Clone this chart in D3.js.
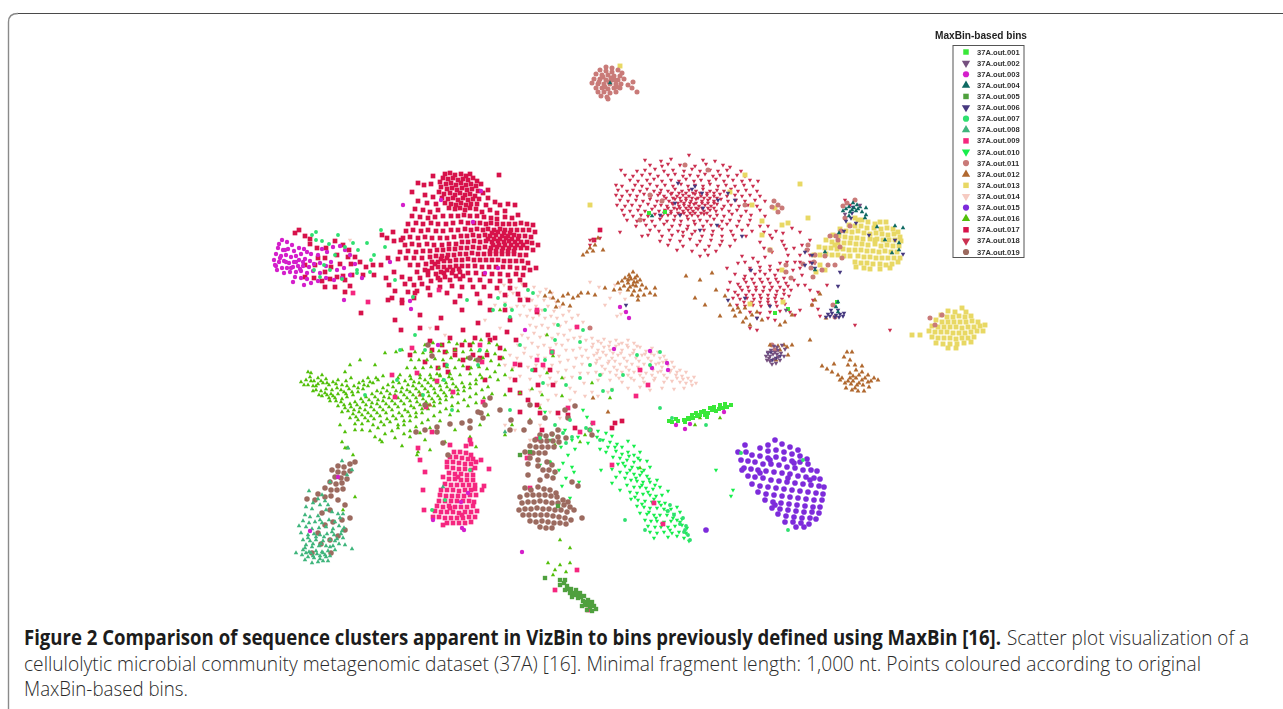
<!DOCTYPE html>
<html>
<head>
<meta charset="utf-8">
<script src="https://cdn.jsdelivr.net/npm/d3@7"></script>
<style>
body { margin: 0; background: #fff; }
svg { display: block; }
.legendTitle { font: bold 10.1px "Liberation Sans"; fill: #222; text-anchor: middle; }
.legendText { font: bold 7.6px "Liberation Sans"; fill: #333; }
.capBold { font: bold 20.5px "Open Sans"; fill: #1c1c1c; }
.capText { font: 300 20.5px "Open Sans"; fill: #2a2a2a; }
</style>
</head>
<body>
<svg width="1283" height="709"></svg>
<script>
// scatter values, x,y,x,y,... in map units
var bin001 = [731,405,727,407,723,408,719,409,716,411,712,410,708,413,705,415,701,412,697,416,693,418,689,419,696,413,710,408,720,405,704,411,684,420,678,421,672,422,669,421,676,419,685,422,707,417,837,302,788,309,665,212,649,213,688,418,775,313,714,407,725,404,700,415,692,415];
var bin002 = [774,346,771,350,768,352,766,356,770,356,775,352,778,350,781,353,778,357,774,359,770,361,776,363,780,360,784,356,772,364,767,360,777,347,785,349,782,345,860,205,845,214,786,310,773,354,777,354,769,358];
var bin003 = [282,240,287,242,292,245,278,248,283,250,288,249,294,251,299,248,304,249,276,254,281,256,286,255,291,257,296,256,301,254,307,252,311,254,274,260,279,262,284,261,289,263,294,262,299,260,305,259,310,261,276,266,282,268,287,268,293,267,298,266,303,266,309,267,314,264,277,270,275,265,284,273,290,272,296,272,301,271,307,273,313,271,295,277,301,278,307,279,318,255,322,249,327,252,333,247,340,246,345,250,320,263,326,266,331,262,337,270,344,268,320,273,326,278,334,280,342,278,318,281,293,282,304,285,311,283,350,255,350,275,362,278,355,264,344,300,410,301,403,205,473,222,481,191,438,345,390,262,411,309,485,273,441,200,498,268,525,330,650,351,667,363,668,370,614,349,626,312,629,318,620,307,676,425,685,429,690,424,461,502,468,493,462,528,464,530,433,520,522,552,310,531,338,477,652,368,724,412,280,258,285,250,296,262,291,268,303,262,279,244,286,262,300,269];
var bin004 = [853,203,857,205,849,207,854,208,860,207,846,209,850,212,856,211,862,212,866,208,843,211,849,216,866,215,895,226,903,228,892,253,899,250,815,270,865,218,877,227,899,243,838,302,836,307,838,312,885,240,839,233,652,216,610,83,825,252,858,209,852,210];
var bin005 = [560,580,564,583,567,586,560,585,571,589,576,590,565,590,570,593,575,595,580,593,584,596,578,598,583,601,588,600,592,602,586,605,590,607,594,606,596,609,587,610,592,611,572,597,582,606,565,580,591,604,545,578,558,506,520,455,530,452,568,589,574,593,581,597,585,602,589,604,577,594];
var bin006 = [828,314,832,313,836,315,840,314,844,313,835,317,830,316,826,317,839,317,843,316,831,310,838,310,771,352,776,358,772,360,768,353,780,356,853,207,852,213,846,221,851,218,844,231,869,235,856,223,660,215,675,203,678,183,692,189,702,193,718,200,717,225,700,230,680,215,735,200,742,236,745,298,770,306,728,300,751,270,757,318,840,272,838,286,805,252,805,265,812,255,895,240,903,254,812,263,815,268,626,305,695,186,703,208,728,193];
var bin007 = [312,235,316,232,322,241,329,244,338,235,345,247,353,243,358,250,367,243,381,230,385,247,314,270,320,277,324,265,330,270,335,255,342,279,357,270,371,260,374,255,370,272,357,273,316,240,395,280,413,297,467,300,415,335,425,350,447,365,478,365,533,293,520,345,510,317,505,305,493,310,498,298,512,310,528,290,552,352,555,340,532,370,543,383,566,385,558,325,545,310,600,375,603,391,612,390,623,375,580,342,583,330,590,365,580,378,590,430,570,420,555,425,540,438,566,443,572,437,586,428,563,433,650,365,637,355,660,352,510,410,470,470,432,510,445,500,452,410,444,380,423,395,397,380,400,350,365,395,545,360,480,350,600,440,625,520,645,530,685,530,670,505,690,540,684,532,680,524,683,518,688,535,674,515,668,511,686,526,660,408,672,418,706,425,741,453,788,530,803,460];
var bin008 = [322,495,318,499,325,501,313,503,320,505,328,505,306,507,312,509,326,510,332,512,305,515,310,517,318,516,338,514,303,521,309,523,315,522,322,523,329,520,335,522,340,518,306,527,312,529,319,528,326,527,333,529,339,526,344,528,301,533,308,535,314,534,320,535,327,534,334,535,341,534,303,540,310,541,316,540,323,541,330,540,337,539,343,538,306,545,312,547,319,546,326,546,333,546,339,544,303,550,309,552,316,551,322,552,328,551,335,550,302,555,308,557,314,558,320,556,326,557,318,562,323,561,312,563,328,561,305,560,348,448,342,461,299,526,343,514,345,545,330,556,352,549,296,553,320,520,309,491,347,475,352,470,330,482,443,487,505,432,311,553,317,554,323,553,330,547,305,548,313,544,321,544,335,541,308,538,316,537,324,537,332,532,342,531,313,556,320,559,325,555,306,553];
var bin009 = [454,452,460,452,466,453,471,455,450,457,456,457,462,458,468,459,473,459,476,462,447,462,453,462,459,463,465,464,471,464,447,467,453,468,459,469,465,469,471,470,475,468,449,473,455,474,461,474,467,475,473,475,443,477,449,479,455,479,461,480,467,480,473,480,445,484,451,485,457,485,463,485,469,485,475,485,441,490,447,490,453,490,459,491,465,490,471,490,440,495,446,496,452,496,458,496,464,496,470,495,476,495,439,501,445,501,451,501,457,501,463,501,469,501,474,502,437,506,443,507,449,506,455,507,461,507,467,507,473,506,435,511,441,512,447,512,453,512,459,513,465,512,471,512,477,511,433,517,439,517,445,518,451,518,457,518,463,518,469,517,475,517,447,523,453,523,459,523,465,523,471,522,450,508,462,515,458,477,443,525,424,510,423,490,425,472,470,440,466,446,481,460,471,444,475,489,482,490,420,460,418,448,489,469,484,486,537,439,530,453,480,345,453,392,437,381,417,373,450,445,368,302,439,290,527,458,432,432,426,407,483,402,515,364,537,360,552,352,543,365,568,408,580,432,593,423,636,396,648,385,612,465,654,503,663,524,640,370,577,327,537,310,482,362,392,375,395,397,412,348,353,293,530,488,588,610,590,603,555,590,577,570];
var bin010 = [587,417,592,424,598,431,606,433,612,436,603,440,597,437,610,442,617,444,622,447,628,441,634,446,600,449,606,452,616,451,628,452,634,455,640,452,613,457,620,458,627,460,634,462,640,460,647,461,618,464,625,466,632,467,638,468,644,470,650,467,612,469,620,472,627,473,634,474,640,475,647,476,625,478,631,480,637,481,643,482,650,482,657,480,616,477,627,485,634,487,640,487,646,488,653,489,660,487,630,492,637,493,643,494,650,495,656,496,662,495,668,491,620,490,631,499,638,500,645,501,652,502,659,502,665,503,637,506,644,507,650,508,657,508,664,509,671,509,677,507,640,513,647,514,654,515,660,515,667,515,674,514,680,512,645,520,651,521,657,521,664,522,671,521,677,520,682,519,648,526,655,527,661,527,668,527,675,526,682,525,650,532,657,533,664,532,672,533,679,532,686,533,654,538,668,537,684,538,689,541,545,412,565,430,553,435,572,440,561,447,578,437,588,443,575,449,568,455,550,462,563,463,572,467,555,473,566,478,574,472,562,486,559,470,579,482,570,498,550,440,540,465,601,470,612,483,716,470,733,490,731,496,583,410,623,463,630,470,636,478,642,485,648,492,654,499,661,505,667,511,673,518,680,522,687,528,629,456,642,472,649,479,655,485,635,497,642,504,649,512,656,518,662,524,670,530,677,536,622,454,615,447,608,447,638,458];
var bin011 = [606,67,612,68,600,70,606,71,612,72,618,70,622,73,596,74,602,75,608,75,614,76,620,76,594,79,600,79,606,80,612,80,618,80,624,79,592,83,598,84,604,84,610,84,616,84,621,84,596,88,602,88,608,89,614,88,620,88,598,92,604,92,610,93,616,92,601,96,607,97,628,85,633,82,637,92,632,88,608,99,774,201,778,205,772,207,782,208,778,212,843,206,847,203,855,200,845,218,850,226,841,231,836,236,830,236,814,262,828,265,822,270,835,265,842,258,840,247,838,240,825,256,815,255,811,268,813,277,807,250,808,245,803,264,745,205,770,250,786,272,791,278,786,265,650,195,662,201,685,165,708,170,833,305,835,317,930,318,935,325,942,315,772,345,775,350,640,220,590,328,603,77,609,82,615,80,599,82,605,87,611,78,617,87];
var bin012 = [633,272,629,275,625,278,637,276,631,279,622,281,628,283,634,282,640,280,618,283,624,286,630,287,636,286,642,285,628,290,634,291,640,290,646,288,632,295,638,296,650,293,655,295,644,295,638,300,655,288,620,289,614,290,598,238,595,245,590,248,587,252,603,250,583,255,593,251,553,298,558,301,563,296,568,294,573,298,578,296,563,304,570,306,581,293,556,307,550,292,545,296,595,295,605,288,588,293,784,345,787,347,780,350,792,345,776,360,788,355,770,345,778,346,822,366,827,369,832,372,838,375,842,378,850,373,856,370,862,372,868,375,874,378,878,380,850,378,856,378,862,380,868,382,845,383,851,384,857,385,863,385,869,387,840,380,846,388,852,390,858,391,864,391,850,360,852,352,844,357,848,365,855,365,862,366,834,364,740,312,746,318,752,315,735,316,757,312,743,322,762,320,733,310,780,325,792,315,720,316,705,305,716,290,695,298,700,280,712,273,686,276,750,325,815,300,826,318,812,305,820,294,785,322,847,352,810,340,593,398,608,412,430,405,420,395,725,296,730,305,738,308,745,308,628,280,633,285,637,282,630,277,635,278,853,376,859,375,853,381,859,383,865,378,871,381,855,388,848,381];
var bin013 = [855,218,862,220,868,222,875,224,880,222,886,222,849,225,855,226,861,226,867,228,874,228,881,229,887,228,893,229,898,232,840,229,846,231,852,232,858,231,864,233,870,234,876,233,882,234,888,235,894,234,900,237,833,235,839,236,845,237,851,238,857,238,863,239,870,239,877,239,883,240,889,240,895,240,901,241,826,240,832,242,838,243,844,243,850,243,856,244,862,244,868,245,875,244,881,246,887,245,893,246,899,246,819,247,825,248,831,248,837,249,843,249,849,250,855,250,861,250,867,251,873,251,879,252,885,251,891,252,897,252,814,255,820,255,826,254,832,255,838,255,844,256,850,256,858,256,864,257,870,257,876,258,882,258,888,258,894,258,900,258,855,262,861,263,867,263,873,264,880,264,886,265,892,264,898,262,856,267,864,268,870,269,880,269,890,268,800,184,775,208,782,225,808,218,788,223,762,221,835,245,875,240,745,175,752,205,762,235,770,250,782,270,820,265,816,272,948,311,955,312,962,308,966,312,941,315,947,317,953,317,959,316,965,317,971,316,936,320,942,322,948,322,954,322,960,322,966,322,972,321,978,322,932,326,938,327,944,327,950,327,956,327,962,328,968,327,974,327,980,326,985,325,929,331,935,332,941,332,947,332,953,333,959,333,965,333,971,332,977,331,983,331,932,337,938,338,944,338,950,338,956,339,962,338,968,338,974,337,936,343,943,344,950,344,957,344,964,343,971,342,948,348,956,348,620,66,730,192,750,304,783,302,590,205,912,335,825,270,858,220,920,335];
var bin014 = [504,285,510,283,516,288,522,284,528,290,534,287,540,292,546,289,552,293,500,292,507,296,513,293,519,297,526,298,532,300,538,296,544,300,550,298,556,302,505,303,511,308,517,306,524,306,530,310,536,306,542,310,548,306,554,311,560,307,520,315,527,316,533,318,539,315,545,318,551,316,557,318,563,315,569,311,530,325,536,327,542,325,548,328,554,324,560,326,566,322,572,318,578,315,522,335,528,338,534,333,540,337,546,335,552,338,558,334,564,335,570,330,576,327,583,322,518,345,525,348,532,343,538,347,544,345,550,348,556,344,562,345,568,340,574,338,580,337,586,340,592,338,598,341,604,339,610,342,616,340,622,343,628,340,634,343,510,355,517,358,524,353,531,357,538,355,545,358,552,354,559,356,566,350,573,350,580,348,586,350,592,347,598,350,604,347,610,350,616,346,622,350,628,347,634,350,640,347,646,351,652,348,658,352,664,356,505,365,513,368,520,363,528,367,536,365,544,368,552,365,560,362,568,360,576,358,582,356,588,358,594,355,600,358,606,355,612,358,618,355,624,358,630,355,636,358,642,355,648,358,654,355,660,358,666,360,672,362,510,378,520,376,530,379,540,376,550,378,558,372,566,370,574,367,582,364,590,365,596,363,602,366,608,363,614,367,620,364,626,367,632,364,638,367,644,364,650,366,656,364,662,367,668,365,674,367,680,370,686,372,530,390,540,392,548,385,556,382,564,378,572,377,580,373,588,373,596,372,602,374,610,372,616,375,622,372,628,375,634,372,640,375,646,373,652,375,658,372,664,375,670,372,676,375,682,376,688,378,694,377,540,405,548,400,556,395,570,388,584,383,598,380,610,380,622,382,634,380,644,382,654,380,664,382,672,381,680,382,686,383,692,385,696,383,612,389,628,388,640,387,650,390,662,388,674,389,684,388,617,316,621,314,625,312,575,392,585,396,592,392,570,400,550,412,560,418,465,175,505,425,510,290,495,305,480,300,490,340,500,328,485,320,430,328,445,335,470,345,608,392,598,396,515,430,530,440,540,425,560,430,350,240,590,282,610,298,620,293,605,305,599,287,615,285,625,299,593,344,601,343,609,346,619,344,627,345,637,346,597,353,603,352,613,353,621,353,633,353,645,354,651,353,659,363,597,360,609,361,615,361,627,361,639,361,651,361,663,362,605,369,617,370,629,370,641,370,653,370,661,371,671,370,677,372,683,379,691,381,619,378,631,378,643,378,655,378,667,378,677,378];
var bin015 = [775,440,768,445,782,444,790,447,798,450,760,448,768,451,776,450,784,452,792,454,800,456,807,459,746,452,752,455,760,456,768,458,776,457,784,459,792,461,800,462,808,464,741,460,748,461,755,462,763,464,771,464,779,465,787,467,795,468,803,470,811,470,817,471,744,468,751,469,758,470,766,471,774,472,782,473,790,474,798,476,806,477,814,478,820,479,748,476,755,477,763,478,771,480,779,481,787,482,795,483,803,484,811,485,819,486,824,487,752,484,760,486,768,487,776,488,784,489,792,490,800,491,808,492,816,493,823,494,758,492,766,494,774,495,782,496,790,497,798,498,806,499,814,500,822,500,765,500,773,502,781,503,789,504,797,505,805,506,813,507,820,507,772,508,780,509,788,510,796,511,804,512,812,512,819,513,778,514,786,516,794,517,802,518,810,518,816,519,785,522,793,522,801,523,809,524,796,527,804,527,742,470,745,445,738,452,770,460,760,473,788,478,810,480,794,463,775,505,706,530];
var bin016 = [301,382,306,380,310,377,314,381,318,378,322,375,326,379,308,385,313,386,318,384,323,383,329,385,333,382,338,380,316,390,321,391,326,389,332,390,337,388,342,385,346,381,351,378,322,396,327,395,333,396,338,394,344,392,349,389,354,386,359,383,363,381,368,378,330,401,336,401,342,399,347,397,353,395,358,392,363,389,368,386,373,383,378,380,383,376,338,406,344,405,350,404,355,402,361,399,366,397,372,394,377,391,383,388,388,385,393,382,398,378,342,412,348,411,354,410,360,408,366,405,372,403,378,400,384,397,390,394,396,391,402,388,408,385,414,382,420,378,350,418,356,417,362,415,368,413,374,410,380,407,386,404,392,401,398,398,404,395,410,392,416,389,422,386,428,383,434,380,440,376,355,424,362,424,368,421,374,419,380,416,386,413,392,410,398,407,404,404,410,401,416,398,422,395,428,392,434,389,440,386,446,383,452,379,362,430,370,431,378,428,384,425,390,422,396,419,402,416,408,412,414,408,420,405,426,402,432,399,438,396,444,393,450,390,456,387,462,383,375,437,385,434,392,431,398,428,404,425,410,421,416,417,422,413,428,409,434,406,440,403,446,400,452,397,458,394,464,391,470,388,476,384,395,438,404,434,410,431,416,427,422,423,428,420,434,416,440,412,446,409,452,406,458,403,464,400,470,397,476,394,482,390,488,387,420,433,430,428,440,421,450,415,458,411,468,406,476,403,484,398,492,394,425,345,433,343,441,345,449,342,457,344,465,341,473,343,481,340,489,343,497,345,505,350,415,352,423,353,431,352,439,351,447,352,455,350,463,352,471,350,479,351,487,351,495,354,503,358,411,360,419,360,427,360,435,359,443,360,451,358,459,360,467,358,475,360,483,358,491,361,499,365,407,368,415,368,423,368,431,367,439,368,447,367,455,368,463,366,471,368,479,367,487,369,495,372,400,375,410,376,420,375,430,375,440,375,450,374,460,375,470,374,480,375,490,377,498,380,505,375,512,370,308,372,311,373,345,372,375,365,385,353,396,352,402,350,360,360,350,365,547,335,342,442,347,448,353,455,340,425,345,432,555,445,550,462,530,420,540,408,532,389,542,395,520,393,512,425,505,435,425,440,418,452,417,455,355,497,343,510,348,448,560,540,548,563,555,570,560,565,553,575,566,572,570,548,570,563,720,418,500,310,553,356,547,373,562,378,562,396,470,437,476,447,455,430,345,448,580,442,585,435,592,383,610,398,505,395,488,415,480,425,445,442,430,450,410,437,355,430,382,442,640,468,695,425,700,418,380,440,402,446,304,385,311,381,316,386,321,381,327,383,313,391,319,395,325,393,331,394,336,384,341,390,347,386,329,398,335,398,341,402,346,394,352,392,358,388,364,385,370,382,376,378,345,408,351,407,357,405,363,402,369,400,375,397,381,393,387,391,393,387,399,383,405,381,411,379,353,414,359,412,365,410,371,407,377,404,383,401,389,398,395,395,401,392,407,390,413,386,419,383,425,380,431,378,437,374,358,420,365,418,371,416,377,413,383,410,389,407,395,404,401,401,407,398,413,395,419,392,425,389,431,386,437,383,443,380,449,377,373,425,381,422,387,419,393,416,399,413,405,410,411,406,417,402,423,399,429,396,435,393,441,390,447,387,453,384,398,425,404,421,410,416,416,413,422,409,428,405,434,402,440,399,446,396,452,393,458,390,464,387,470,384,476,380,482,378];
var bin017 = [445,174,450,173,455,175,461,174,466,176,470,174,433,176,499,175,443,178,448,179,453,178,458,180,463,179,468,180,473,178,477,181,418,183,424,185,431,184,440,182,446,184,451,183,456,185,461,183,466,185,471,184,476,186,481,184,441,187,447,189,452,188,457,190,462,188,467,190,472,189,478,191,488,190,439,192,444,194,450,193,455,195,460,193,465,195,470,194,475,196,483,193,425,195,412,192,433,197,442,198,448,199,453,198,458,200,463,198,468,200,473,199,479,199,488,198,495,202,418,201,427,203,436,204,445,203,451,204,456,205,461,203,466,205,471,204,477,204,486,205,500,205,508,204,415,209,423,210,430,212,438,210,449,208,455,209,460,208,465,210,470,208,476,209,482,212,490,210,497,213,505,211,515,205,412,216,420,217,428,218,435,217,443,216,451,216,458,216,464,215,470,216,477,216,484,217,491,218,497,219,505,217,512,218,518,215,408,224,416,223,423,224,431,223,438,224,446,224,453,223,461,222,468,223,474,223,480,223,486,224,491,223,497,224,503,224,509,224,515,224,521,223,527,224,533,225,406,231,413,230,421,231,428,230,436,231,443,231,451,230,458,230,465,229,471,230,477,229,483,230,488,229,494,230,500,229,505,230,511,230,517,230,523,230,529,230,535,232,403,238,410,237,418,238,425,237,432,238,440,238,447,238,454,237,461,236,467,236,473,235,479,236,485,235,490,236,496,235,502,236,508,236,514,235,519,236,525,236,531,237,538,245,405,245,412,244,419,245,427,244,434,245,442,245,449,244,456,244,462,242,468,242,474,241,480,242,486,241,492,242,498,241,504,242,509,241,515,242,521,242,527,242,532,243,400,252,408,251,416,252,423,251,430,251,437,250,443,250,449,249,455,249,461,248,467,248,473,247,479,248,485,247,491,248,497,247,503,248,509,248,515,248,521,248,527,248,533,250,398,259,406,258,414,258,422,258,430,257,436,256,442,256,448,255,454,255,460,254,466,254,472,253,478,254,484,254,490,254,496,254,502,254,508,254,514,254,520,255,526,255,410,265,418,265,426,264,432,262,438,262,444,261,450,261,456,260,462,260,468,259,474,260,480,260,486,260,492,260,498,260,504,261,510,261,516,261,522,261,528,263,536,268,417,272,425,270,432,268,438,267,444,267,450,267,456,266,462,266,468,266,475,266,482,267,489,267,496,267,503,267,510,267,517,268,524,268,530,270,402,277,410,279,420,278,428,275,436,274,444,273,452,273,460,272,468,273,476,273,484,274,492,274,500,274,508,275,516,274,523,275,405,284,414,285,422,284,431,281,440,280,450,280,460,279,470,280,480,280,490,281,500,281,510,281,520,280,395,291,408,292,417,291,428,288,440,287,452,286,462,287,473,287,484,287,497,288,510,288,525,285,392,298,402,300,414,298,430,295,447,293,460,296,477,294,490,296,505,295,518,294,355,257,349,250,340,264,331,267,351,264,360,262,363,275,352,275,343,276,366,267,373,265,374,275,381,265,386,278,389,285,394,272,388,258,382,235,393,232,387,238,394,241,401,240,330,279,322,281,314,278,305,277,343,245,335,241,326,248,317,248,310,244,305,236,295,233,299,230,310,239,318,258,325,258,337,255,348,257,305,265,315,265,325,272,337,277,345,280,325,287,335,287,350,286,345,292,361,313,415,293,402,303,388,300,455,302,420,315,441,318,462,310,480,303,490,310,505,310,520,300,478,323,463,330,450,338,437,328,420,328,401,330,395,320,432,350,442,345,470,345,488,335,510,320,516,340,528,300,537,312,500,348,473,355,455,355,438,368,448,372,468,368,480,358,495,338,500,358,487,355,475,338,463,360,520,365,515,380,510,390,520,393,528,400,538,385,535,370,553,385,540,413,537,405,507,332,550,370,558,413,568,415,575,428,455,350,462,345,430,341,445,352,425,362,410,355,490,340,445,365,600,230,594,240,612,428,615,423,622,421,552,352,485,380,520,412,542,430,441,272,447,270,453,270,459,269,435,264,441,259,447,258,438,278,445,277,456,276,463,276,428,271,492,233,498,232,504,233,510,233,488,239,494,239,500,239,506,238,512,239,518,239,493,245,499,245,505,245,511,245,517,245,523,245,490,251,496,251,502,251,508,251,514,251];
var bin018 = [689,155,645,160,661,161,671,159,703,160,715,161,650,165,662,166,668,164,680,165,695,166,706,164,723,165,730,167,621,170,637,171,645,170,655,169,664,171,673,170,684,171,692,169,700,171,710,170,718,171,727,170,741,171,625,175,633,176,642,175,650,174,658,176,668,175,675,174,683,176,690,175,698,176,705,174,713,176,720,175,728,176,737,175,745,176,630,180,638,181,647,180,654,179,662,181,671,180,679,181,686,179,694,181,701,180,709,181,716,179,724,181,733,180,742,181,750,180,758,181,616,185,622,186,635,185,642,186,650,184,657,186,665,185,673,186,681,184,688,186,695,185,703,186,710,184,718,186,726,185,735,186,744,185,753,186,618,190,627,191,633,190,640,191,647,189,654,191,661,190,668,191,675,189,682,191,689,190,696,191,703,189,710,191,717,190,724,191,731,189,738,191,746,190,757,191,616,195,622,196,630,195,637,196,644,194,651,196,658,195,664,196,671,194,677,196,683,195,689,196,695,194,701,196,707,195,714,196,720,194,727,196,735,195,742,196,750,195,760,196,620,200,628,201,636,200,643,201,650,199,657,201,663,200,669,201,675,199,681,201,686,200,691,201,696,199,702,201,708,200,714,201,721,199,728,201,736,200,745,201,755,200,765,201,617,205,625,206,632,205,640,206,648,204,655,206,661,205,667,206,673,204,679,206,684,205,689,206,694,204,699,206,705,205,711,206,717,204,724,206,731,205,739,206,748,205,757,206,622,210,630,211,638,210,645,211,652,209,659,211,665,210,671,211,677,209,683,211,688,210,693,211,698,209,704,211,710,210,716,211,722,209,729,211,737,210,746,211,760,210,624,215,633,216,641,215,648,216,655,214,662,216,668,215,675,216,681,214,687,216,692,215,698,216,704,214,710,216,717,215,724,216,732,214,741,216,751,215,765,216,627,220,637,221,644,220,652,221,660,219,667,221,674,220,681,221,688,219,694,221,700,220,707,221,714,219,722,221,730,220,739,221,750,220,636,226,646,225,655,226,664,224,672,226,680,225,688,226,695,224,703,226,711,225,719,226,727,224,737,226,748,225,760,226,650,230,659,231,669,230,678,231,687,229,695,231,704,230,713,231,722,229,731,231,742,230,752,231,642,236,648,235,662,236,672,235,683,236,692,234,702,236,712,235,722,236,733,235,746,236,660,241,670,240,680,241,690,239,700,241,711,240,722,241,735,240,668,245,683,246,697,245,709,246,720,245,730,246,677,250,692,251,705,250,716,251,700,256,708,255,764,248,772,238,776,231,768,226,783,233,760,242,742,256,753,258,745,262,738,263,727,268,788,255,794,248,800,255,810,240,800,232,792,228,770,235,764,232,758,262,765,257,772,252,786,249,750,268,760,271,770,266,780,263,787,262,795,262,735,274,745,276,755,274,765,274,775,275,785,272,793,270,800,268,810,262,730,282,738,284,746,282,754,283,762,282,770,283,778,282,786,283,794,280,802,275,728,290,735,292,742,290,749,291,756,290,763,291,770,290,777,291,784,290,791,290,798,285,805,285,733,298,740,299,747,298,754,299,761,298,768,299,775,298,782,299,789,296,737,305,745,306,753,305,761,306,769,305,777,306,785,304,750,312,760,313,770,312,780,311,757,318,768,318,775,320,757,330,750,328,790,312,810,290,813,300,818,309,818,292,820,316,827,285,812,305,855,325,890,330,800,262,810,255,815,263,822,270,802,245,808,250,784,245,782,241,590,245,593,240,600,238,683,232,620,232,800,310,795,315,590,240,845,200,850,205,672,203,678,203,684,203,690,203,696,203,702,203,708,203,714,203,666,198,673,198,680,198,686,198,692,198,698,198,704,198,710,198,717,198,668,208,674,208,680,208,686,208,691,208,696,208,702,208,708,208,714,208,664,213,671,213,678,213,684,213,690,213,695,213,701,213,707,213,660,193,672,193,679,193,686,193,693,193,700,193,707,193,714,193,744,279,752,279,760,279,768,279,776,279,784,278,740,287,748,287,756,287,764,287,772,287,780,287,788,286,738,295,746,295,753,295,760,295,768,295,776,295,784,294,744,302,752,302,760,302,768,302,776,302,750,270,760,267,770,270,778,270];
var bin019 = [338,466,344,467,350,464,355,462,332,470,338,472,344,473,350,471,335,477,341,478,347,479,330,482,336,484,342,483,325,488,331,490,337,490,343,489,318,494,325,497,331,496,315,500,307,499,338,500,345,505,330,510,322,513,333,522,342,520,350,518,325,525,318,533,330,540,338,536,345,530,321,544,331,553,312,553,525,488,531,490,538,487,544,489,550,490,556,493,520,497,527,495,533,495,539,495,545,495,551,496,557,497,563,500,568,502,522,503,528,502,534,502,540,501,546,502,552,503,558,503,564,505,570,507,574,510,519,510,525,509,531,509,537,508,543,509,549,509,555,510,561,510,567,512,523,515,529,515,535,515,541,515,547,515,553,516,559,517,565,518,571,520,530,521,536,522,542,521,548,522,554,523,560,523,566,524,540,527,546,528,552,528,540,435,546,436,552,434,558,437,535,440,541,441,547,441,553,441,559,442,530,446,536,447,542,447,548,447,554,447,525,452,533,453,539,453,545,453,530,458,538,460,528,464,552,465,547,462,538,466,543,470,549,470,555,472,547,476,553,478,540,480,528,475,511,420,485,405,481,413,490,398,478,412,524,430,530,422,470,421,500,410,483,418,470,428,450,424,437,427,425,430,416,432,428,345,432,356,478,360,470,358,425,405,437,432,443,443,448,455,558,430,565,410,568,418,575,406,592,435,530,405,578,486,572,482,582,518,590,430,566,438,545,418,510,430,462,423];
// legend order, glyph shape and colour per bin
var binNames = ["37A.out.001","37A.out.002","37A.out.003","37A.out.004","37A.out.005","37A.out.006","37A.out.007","37A.out.008","37A.out.009","37A.out.010","37A.out.011","37A.out.012","37A.out.013","37A.out.014","37A.out.015","37A.out.016","37A.out.017","37A.out.018","37A.out.019"];
var binValues = [bin001,bin002,bin003,bin004,bin005,bin006,bin007,bin008,bin009,bin010,bin011,bin012,bin013,bin014,bin015,bin016,bin017,bin018,bin019];
var binShapes = ["s","v","c","t","s","v","c","t","s","v","c","t","s","v","c","t","s","v","c"];
var binColors = ["#39e838","#75507f","#d41fcb","#0f6a63","#4fa03e","#46387f","#2fe070","#3fb57c","#f5267f","#17ee4c","#c97a78","#b0682f","#e8d864","#f6cbc2","#7d2bdb","#52bf0a","#d7124a","#cb3050","#9c6a5f"];
var binAreas = [16,9,15,9,19,9,12,9,22,8,20,10,24,8,25,8,22,8,24];
var drawOrder = [13,16,15,17,12,14,9,8,18,10,7,4,0,11,5,3,1,2,6];

var captionBold = "Figure 2 Comparison of sequence clusters apparent in VizBin to bins previously defined using MaxBin [16].";
var captionLines = ["Scatter plot visualization of a","cellulolytic microbial community metagenomic dataset (37A) [16]. Minimal fragment length: 1,000 nt. Points coloured according to original","MaxBin-based bins."];

var svg = d3.select("svg");

// frame with rounded corner, top edge darker than the left
var frame = d3.path();
frame.moveTo(8.5, 709);
frame.lineTo(8.5, 22);
frame.quadraticCurveTo(8.5, 13.5, 18, 13.5);
svg.append("path").attr("d", frame.toString()).attr("fill", "none").attr("stroke", "#8a8a8a").attr("stroke-width", 1.4);
svg.append("path").attr("d", d3.line()([[18,13.5],[1283,13.5]])).attr("stroke", "#4a4a4a").attr("stroke-width", 1);

var x = d3.scaleLinear().domain([260,1000]).range([260,1000]);
var y = d3.scaleLinear().domain([50,620]).range([50,620]);

function glyph(i) {
	var s = binShapes[i];
	var type = s == "s" ? d3.symbolSquare : s == "c" ? d3.symbolCircle : d3.symbolTriangle;
	return d3.symbol().type(type).size(binAreas[i])();
}
function rot(i) { return binShapes[i] == "v" ? " rotate(180)" : ""; }

// the source picture is a soft downscale, so the marks get a slight blur
var plot = svg.append("g").attr("class", "plot").style("filter", "blur(0.45px)");
drawOrder.forEach(function(b) {
	var vals = binValues[b], pts = [];
	for (var k = 0; k < vals.length; k += 2) pts.push([vals[k], vals[k+1]]);
	plot.append("g")
		.attr("class", "bin")
		.selectAll("path")
		.data(pts)
		.enter().append("path")
			.attr("d", glyph(b))
			.attr("fill", binColors[b])
			.attr("transform", function(d) { return "translate(" + [x(d[0]), y(d[1])] + ")" + rot(b); });
});

// legend
var legendY = d3.scalePoint().domain(binNames).range([52, 252]);
svg.append("text").attr("class", "legendTitle").attr("x", 981).attr("y", 39).text("MaxBin-based bins");
svg.append("rect").attr("x", 953).attr("y", 45.5).attr("width", 71).attr("height", 212)
	.attr("fill", "#fff").attr("stroke", "#555").attr("stroke-width", 1);
binNames.forEach(function(name, i) {
	var g = svg.append("g").attr("transform", "translate(" + [966, legendY(name)] + ")");
	var type = binShapes[i] == "s" ? d3.symbolSquare : binShapes[i] == "c" ? d3.symbolCircle : d3.symbolTriangle;
	g.append("path")
		.attr("d", d3.symbol().type(type).size(30)())
		.attr("fill", binColors[i])
		.attr("transform", rot(i).trim());
	g.append("text").attr("class", "legendText").attr("x", 11).attr("y", 2.6).text(name);
});

// caption
var cap = svg.append("g").attr("class", "caption");
cap.append("text").attr("class", "capBold").attr("x", 24).attr("y", 645)
	.attr("textLength", 977).attr("lengthAdjust", "spacingAndGlyphs").text(captionBold);
cap.append("text").attr("class", "capText").attr("x", 1007).attr("y", 645)
	.attr("textLength", 242).attr("lengthAdjust", "spacingAndGlyphs").text(captionLines[0]);
cap.append("text").attr("class", "capText").attr("x", 24).attr("y", 671)
	.attr("textLength", 1177).attr("lengthAdjust", "spacingAndGlyphs").text(captionLines[1]);
cap.append("text").attr("class", "capText").attr("x", 24).attr("y", 696)
	.attr("textLength", 164).attr("lengthAdjust", "spacingAndGlyphs").text(captionLines[2]);
</script>
</body>
</html>
